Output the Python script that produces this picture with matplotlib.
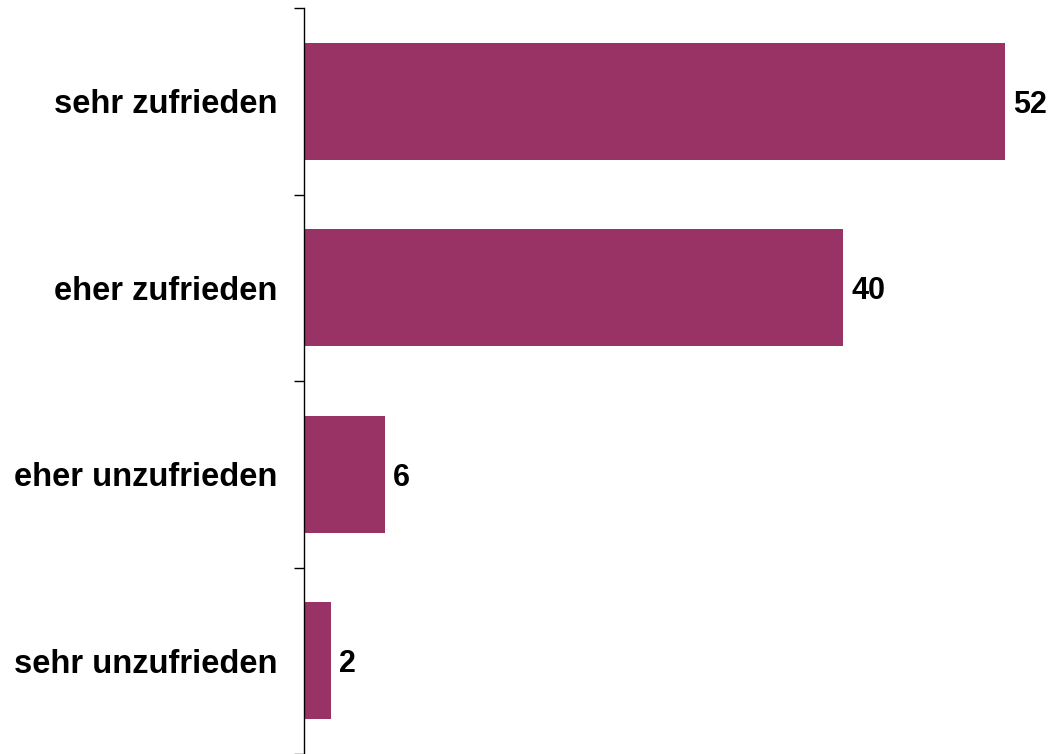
import matplotlib.pyplot as plt

plt.rcParams["font.family"] = ["Liberation Sans", "DejaVu Sans"]

categories = ["sehr zufrieden", "eher zufrieden", "eher unzufrieden", "sehr unzufrieden"]
values = [52, 40, 6, 2]

BAR_COLOR = "#993366"

fig = plt.figure(figsize=(10.49, 7.54), dpi=100)
ax = fig.add_axes([304 / 1049, 0.0, 1 - 304 / 1049, 1 - 8 / 754])

pos = list(range(len(categories)))
ax.barh(pos, values, height=0.627, color=BAR_COLOR)

for y, v in zip(pos, values):
    ax.text(v + 0.6, y, f"{v}", va="center_baseline", ha="left",
            fontsize=22, fontweight="bold", color="black")

ax.set_xlim(0, 745 / 13.48)
ax.set_ylim(len(categories) - 0.5, -0.5)

# Striche an den Kategoriegrenzen, Beschriftung in der Mitte
ax.set_yticks([i - 0.5 for i in range(len(categories) + 1)])
ax.set_yticklabels([])
ax.tick_params(axis="y", which="major", direction="out", length=7.5, width=1, color="black")
ax.set_yticks(pos, minor=True)
ax.set_yticklabels(categories, minor=True, fontsize=23.6, fontweight="bold")
ax.tick_params(axis="y", which="minor", length=0, pad=19)

ax.set_xticks([])
for side in ("top", "right", "bottom"):
    ax.spines[side].set_visible(False)
ax.spines["left"].set_linewidth(1)

fig.savefig("out.png", dpi=100, facecolor="white")
